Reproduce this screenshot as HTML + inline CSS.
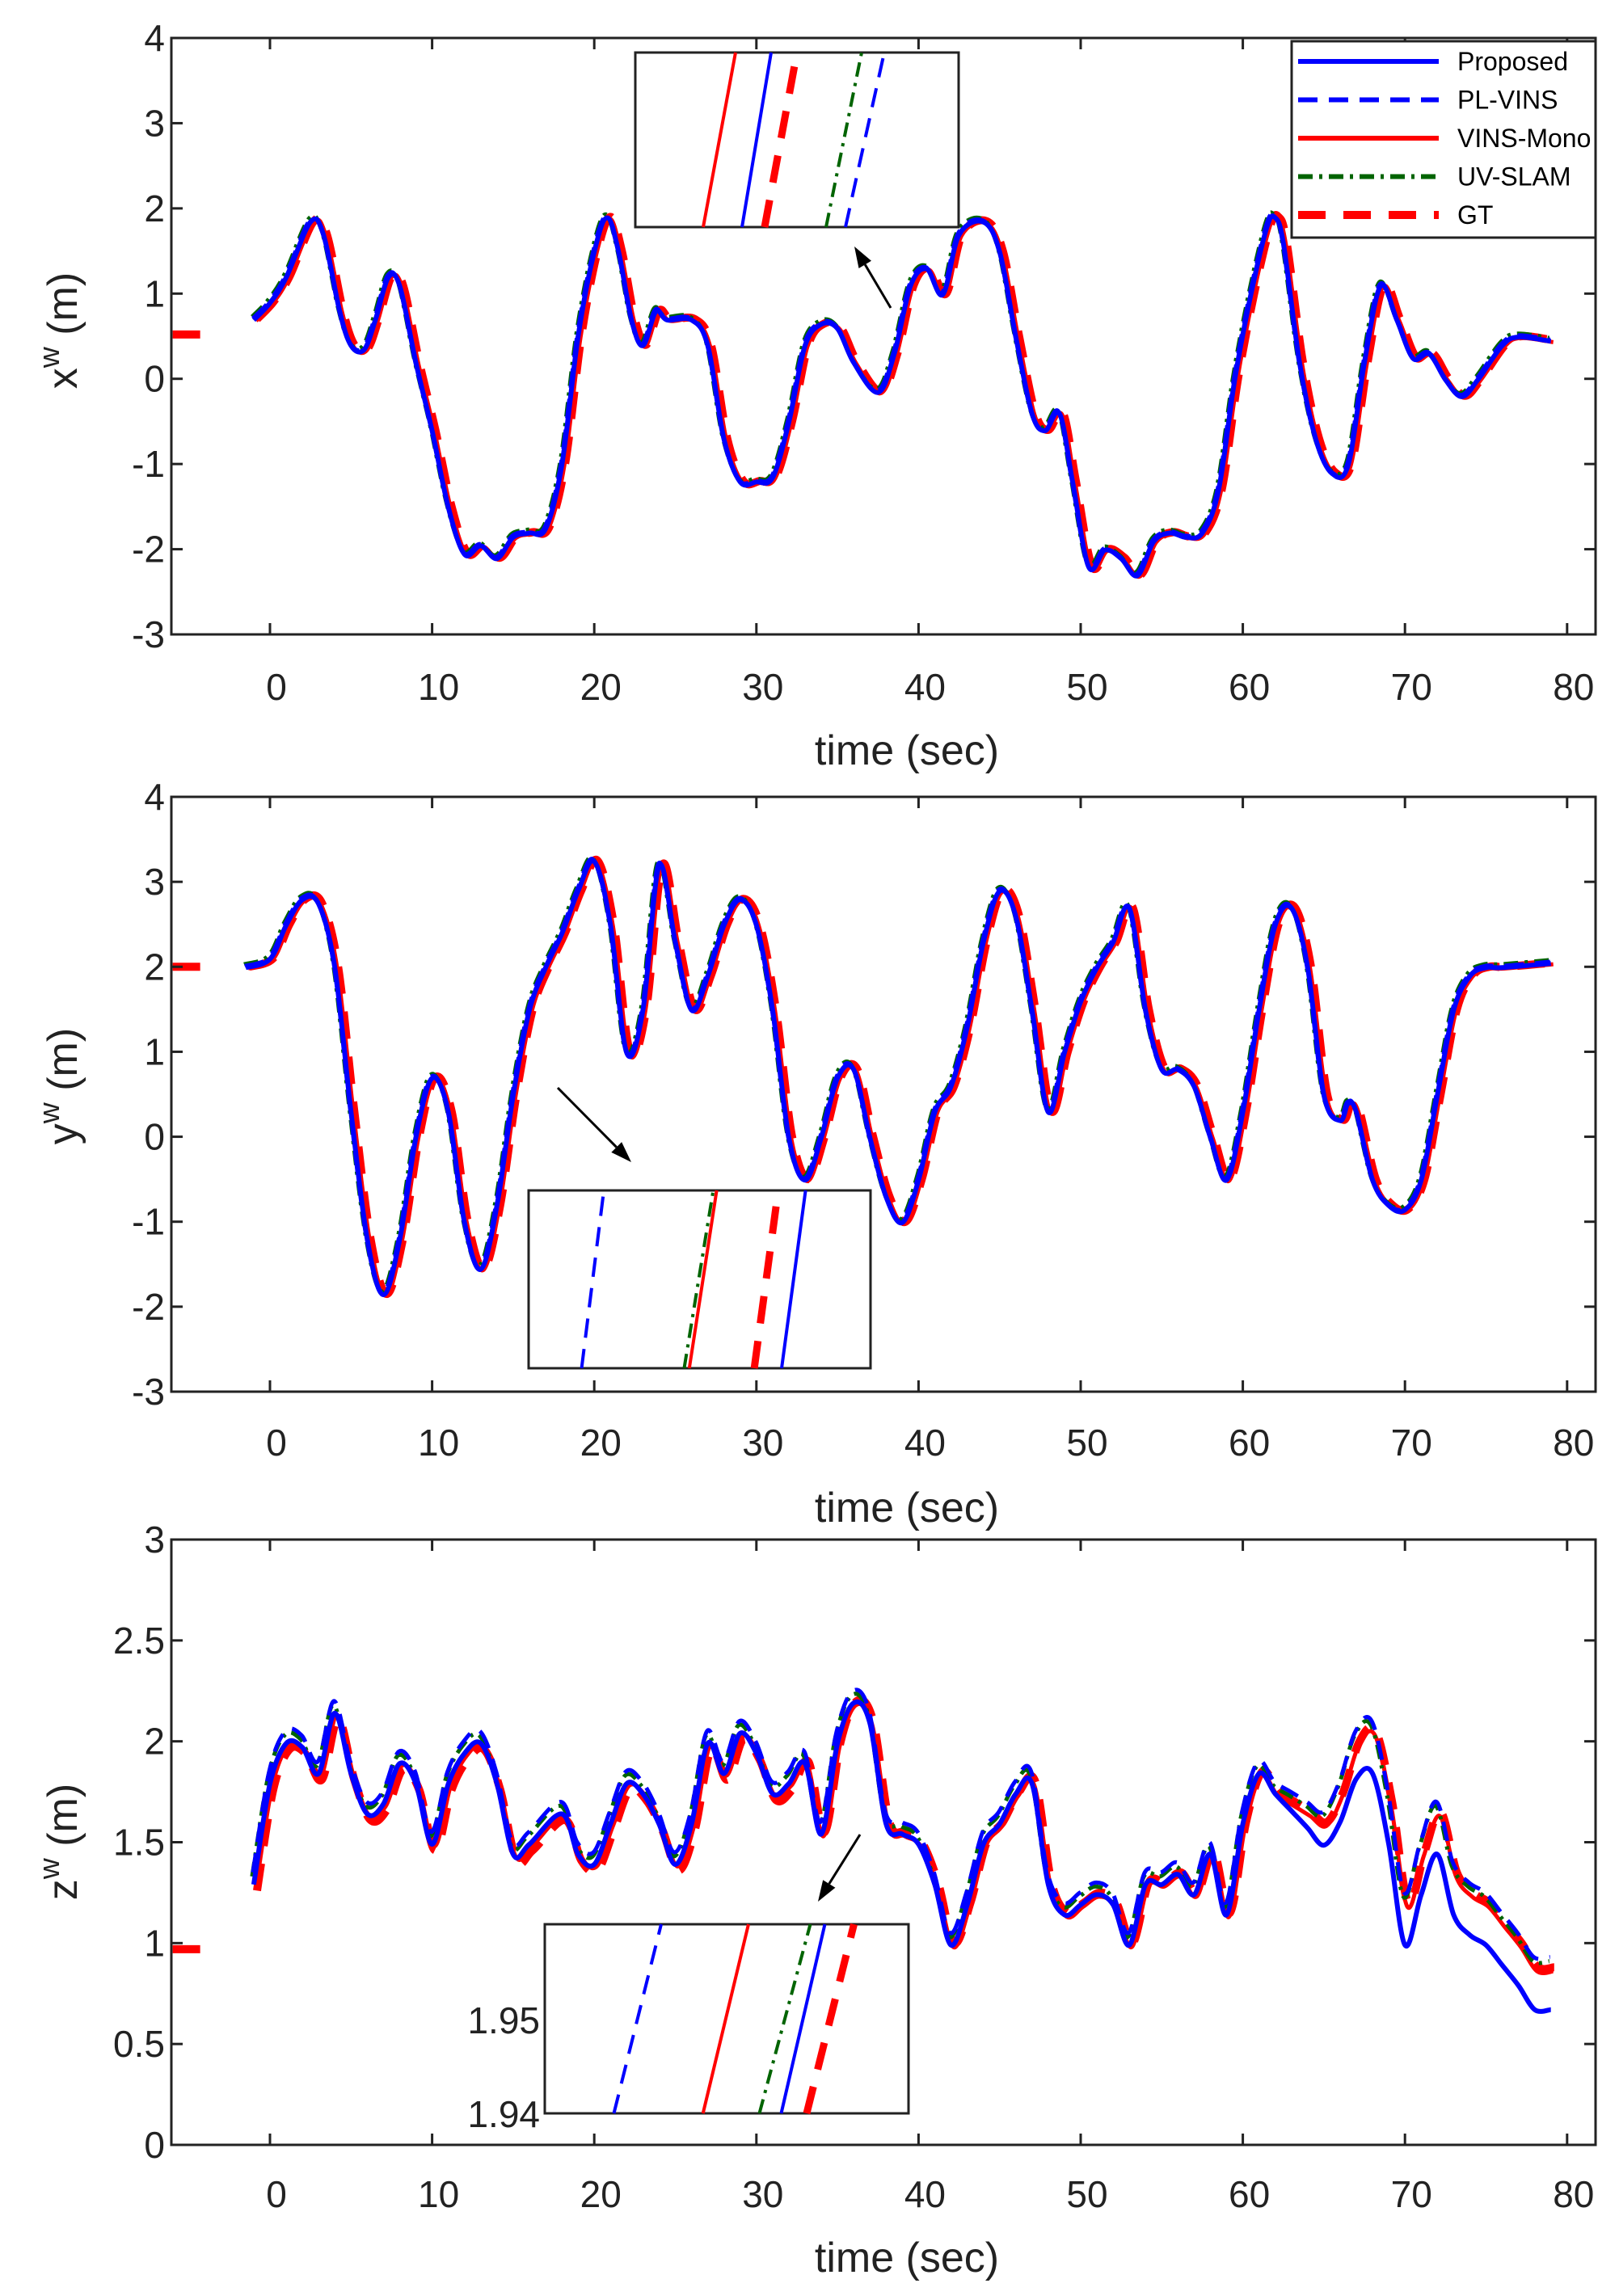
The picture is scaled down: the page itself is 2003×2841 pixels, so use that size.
<!DOCTYPE html>
<html><head><meta charset="utf-8"><style>
html,body{margin:0;padding:0;background:#fff}
svg{display:block}
text{font-family:"Liberation Sans Narrow","Liberation Sans",sans-serif;fill:#222}
</style></head><body>
<svg id="s" width="2003" height="2841" xmlns="http://www.w3.org/2000/svg"></svg>
<script>
const S=document.getElementById('s');let h='';
const L=212,R=1974;const X=t=>334+t*20.06;
function cr(pts){let d='M'+pts[0][0].toFixed(1)+','+pts[0][1].toFixed(1);
for(let i=0;i<pts.length-1;i++){const p0=pts[Math.max(0,i-1)],p1=pts[i],p2=pts[i+1],p3=pts[Math.min(pts.length-1,i+2)];
const c1=[p1[0]+(p2[0]-p0[0])/6,p1[1]+(p2[1]-p0[1])/6],c2=[p2[0]-(p3[0]-p1[0])/6,p2[1]-(p3[1]-p1[1])/6];
d+='C'+c1.map(v=>v.toFixed(1))+' '+c2.map(v=>v.toFixed(1))+' '+p2[0].toFixed(1)+','+p2[1].toFixed(1);}return d;}
const panels=[
{top:47,bot:785,y0:-3,y1:4,step:1,lab:'x',ly:409,tl:850,xl:928,dec:0,
d:[[-1,0.7],[0,0.9],[1,1.2],[2.5,1.85],[3.3,1.7],[4.3,0.8],[5,0.4],[5.8,0.35],[6.5,0.7],[7.3,1.2],[8,1.1],[9,0.2],[10,-0.6],[11,-1.5],[12,-2.05],[13,-1.95],[14,-2.1],[15,-1.85],[16,-1.8],[17,-1.75],[18,-1.0],[19,0.5],[20,1.5],[20.8,1.9],[21.5,1.5],[22.3,0.7],[23,0.4],[23.8,0.8],[24.5,0.7],[26,0.7],[27,0.4],[28,-0.7],[29,-1.2],[30,-1.2],[31,-1.15],[32,-0.5],[33,0.4],[34,0.65],[35,0.6],[36,0.2],[37.5,-0.15],[38.5,0.3],[39.5,1.1],[40.5,1.3],[41.5,1.0],[42.5,1.7],[44,1.85],[45,1.5],[46,0.5],[47,-0.4],[47.8,-0.6],[48.7,-0.4],[49.5,-1.2],[50.5,-2.2],[51.5,-2.0],[52.5,-2.1],[53.5,-2.3],[54.5,-1.9],[55.5,-1.8],[56.5,-1.85],[57.5,-1.8],[58.5,-1.3],[59.5,0],[60.5,1.0],[61.5,1.8],[62,1.9],[62.5,1.6],[63.5,0.2],[64.5,-0.7],[65.5,-1.1],[66.5,-1.0],[67.5,0.2],[68.5,1.1],[69.5,0.7],[70.5,0.25],[71.5,0.3],[72.5,0.0],[73.5,-0.2],[74.5,0.0],[76,0.4],[77,0.5],[79,0.45]],gt0:0.52},
{top:986,bot:1722,y0:-3,y1:4,step:1,lab:'y',ly:1344,tl:1785,xl:1865,dec:0,
d:[[-1.5,2.0],[0,2.1],[1,2.5],[2,2.8],[3,2.75],[4,2.0],[5,0.3],[6,-1.2],[7,-1.85],[8,-1.2],[9,0],[10,0.7],[11,0.3],[12,-1.0],[13,-1.55],[14,-0.8],[15,0.5],[16,1.5],[17,2.0],[18,2.4],[19,2.9],[20,3.25],[21,2.5],[22,1.0],[23,1.5],[24,3.2],[25,2.3],[26,1.5],[27,1.9],[28,2.5],[29,2.8],[30,2.5],[31,1.5],[32,0],[33,-0.5],[34,0.0],[35,0.7],[36,0.8],[37,0.0],[38,-0.7],[39,-1.0],[40,-0.5],[41,0.3],[42,0.6],[43,1.3],[44,2.3],[45,2.9],[46,2.6],[47,1.5],[48,0.3],[49,1.0],[50,1.6],[51,2.0],[52,2.3],[53,2.7],[54,1.5],[55,0.8],[56,0.8],[57,0.6],[58,0.0],[59,-0.5],[60,0.3],[61,1.5],[62,2.5],[63,2.7],[64,2.0],[65,0.5],[66,0.2],[66.5,0.4],[67,0.3],[68,-0.5],[69,-0.8],[70,-0.85],[71,-0.5],[72,0.5],[73,1.5],[74,1.9],[75,2.0],[76,2.0],[79,2.05]],gt0:2.0},
{top:1905,bot:2654,y0:0,y1:3,step:0.5,lab:'z',ly:2279,tl:2715,xl:2793,dec:1,
d:[[-1,1.3],[0,1.8],[1,2.0],[2,1.98],[3,1.85],[4,2.15],[5,1.85],[6,1.65],[7,1.7],[8,1.9],[9,1.8],[10,1.5],[11,1.8],[12,1.95],[13,2.0],[14,1.8],[15,1.45],[16,1.5],[18,1.65],[19,1.45],[20,1.4],[21,1.6],[22,1.8],[23,1.75],[24,1.6],[25,1.4],[26,1.6],[27,2.0],[28,1.85],[29,2.05],[30,1.95],[31,1.75],[32,1.8],[33,1.9],[34,1.55],[35,2.0],[36,2.2],[37,2.1],[38,1.6],[39,1.55],[40,1.5],[41,1.3],[42,1.0],[43,1.2],[44,1.5],[45,1.6],[46,1.75],[47,1.8],[48,1.3],[49,1.15],[50,1.2],[51,1.25],[52,1.2],[53,1.0],[54,1.3],[55,1.3],[56,1.35],[57,1.25],[58,1.45],[59,1.15],[60,1.6],[61,1.85],[62,1.75],[63,1.7],[64,1.65],[65,1.6],[66,1.75],[67,2.0],[68,2.05],[69,1.7],[70,1.2],[71,1.45],[72,1.65],[73,1.35],[74,1.25],[75,1.2],[76,1.1],[77,1.0],[78,0.88],[79,0.88]],gt0:0.97}
];
panels.forEach((p,pi)=>{
const Y=v=>p.bot-(v-p.y0)/(p.y1-p.y0)*(p.bot-p.top);
const mk=(dt,dv,fn)=>p.d.map(([t,v])=>[X(t+dt),Y(v+dv+(fn?fn(t):0))]);
let propFn=null;
if(pi==2) propFn=t=>t<62?0:t<68?-(t-62)*0.035:-0.2;
const gt=mk(0.2,0,pi==2?(t=>t<33?-0.04:0):null);
h+=`<path d="${cr(gt)}" fill="none" stroke="#f00" stroke-width="10" stroke-dasharray="34,22"/>`;
h+=`<line x1="${X(-6)}" y1="${Y(p.gt0)}" x2="${X(-3.5)}" y2="${Y(p.gt0)}" stroke="#f00" stroke-width="10" stroke-dasharray="34,22"/>`;
h+=`<path d="${cr(mk(0.15,-0.02))}" fill="none" stroke="#f00" stroke-width="5"/>`;
h+=`<path d="${cr(mk(-0.1,0.03))}" fill="none" stroke="#006400" stroke-width="5" stroke-dasharray="18,8,4,8"/>`;
h+=`<path d="${cr(mk(-0.05,pi==2?0.05:0.01))}" fill="none" stroke="#00f" stroke-width="5" stroke-dasharray="24,14"/>`;
h+=`<path d="${cr(mk(0,-0.01,propFn))}" fill="none" stroke="#00f" stroke-width="6"/>`;
h+=`<rect x="${L}" y="${p.top}" width="${R-L}" height="${p.bot-p.top}" fill="none" stroke="#222" stroke-width="3"/>`;
for(let t=0;t<=80;t+=10){const x=X(t);h+=`<line x1="${x}" y1="${p.bot}" x2="${x}" y2="${p.bot-14}" stroke="#222" stroke-width="3"/><line x1="${x}" y1="${p.top}" x2="${x}" y2="${p.top+14}" stroke="#222" stroke-width="3"/>`;
h+=`<text x="${x+8}" y="${p.tl+16}" font-size="46" text-anchor="middle">${t}</text>`;}
for(let v=p.y0;v<=p.y1+1e-9;v+=p.step){const y=Y(v);h+=`<line x1="${L}" y1="${y}" x2="${L+14}" y2="${y}" stroke="#222" stroke-width="3"/><line x1="${R}" y1="${y}" x2="${R-14}" y2="${y}" stroke="#222" stroke-width="3"/>`;
let s=(Math.abs(v-Math.round(v))<1e-9)?String(Math.round(v)):v.toFixed(1);
h+=`<text x="204" y="${y+16}" font-size="46" text-anchor="end">${s}</text>`;}
h+=`<text x="1122" y="${p.xl+18}" font-size="52" text-anchor="middle">time (sec)</text>`;
h+=`<text transform="translate(95,${p.ly}) rotate(-90)" font-size="52" text-anchor="middle">${p.lab}<tspan dy="-22" font-size="36">w</tspan><tspan dy="22"> (m)</tspan></text>`;
});
function inset(x0,y0,x1,y1,ls){
h+=`<rect x="${x0}" y="${y0}" width="${x1-x0}" height="${y1-y0}" fill="#fff" stroke="#222" stroke-width="3"/>`;
const w=x1-x0;
ls.forEach(([a,b,c,sw,da])=>{h+=`<line x1="${x0+a*w}" y1="${y1}" x2="${x0+b*w}" y2="${y0}" stroke="${c}" stroke-width="${sw}" ${da?`stroke-dasharray="${da}"`:''}/>`;});
}
inset(786,65,1186,281,[[0.21,0.31,'#f00',4],[0.33,0.42,'#00f',4],[0.40,0.50,'#f00',9,'34,22'],[0.59,0.70,'#006400',4,'18,8,4,8'],[0.65,0.77,'#00f',4,'24,14']]);
inset(654,1473,1077,1693,[[0.155,0.22,'#00f',4,'24,14'],[0.455,0.54,'#006400',4,'18,8,4,8'],[0.47,0.55,'#f00',4],[0.66,0.73,'#f00',9,'34,22'],[0.74,0.81,'#00f',4]]);
inset(674,2381,1124,2615,[[0.19,0.32,'#00f',4,'24,14'],[0.435,0.56,'#f00',4],[0.59,0.73,'#006400',4,'18,8,4,8'],[0.65,0.77,'#00f',4],[0.72,0.85,'#f00',9,'34,22']]);
h+=`<text x="668" y="2516" font-size="46" text-anchor="end">1.95</text><text x="668" y="2632" font-size="46" text-anchor="end">1.94</text>`;
function arrow(x1,y1,x2,y2){const a=Math.atan2(y2-y1,x2-x1),l=26,w=9;
const bx=x2-l*Math.cos(a),by=y2-l*Math.sin(a);
h+=`<line x1="${x1}" y1="${y1}" x2="${bx}" y2="${by}" stroke="#000" stroke-width="3"/>`;
h+=`<polygon points="${x2},${y2} ${bx+w*Math.sin(a)},${by-w*Math.cos(a)} ${bx-w*Math.sin(a)},${by+w*Math.cos(a)}" fill="#000"/>`;}
arrow(1102,381,1057,305);arrow(690,1346,781,1438);arrow(1064,2270,1012,2353);
h+=`<rect x="1598" y="51" width="376" height="243" fill="#fff" stroke="#222" stroke-width="3"/>`;
const lg=[['Proposed','#00f',6,''],['PL-VINS','#00f',6,'24,14'],[' VINS-Mono','#f00',6,''],['UV-SLAM','#006400',6,'18,8,4,8'],['GT','#f00',10,'34,22']];
lg.forEach((e,i)=>{const y=76+i*47.5;h+=`<line x1="1606" y1="${y}" x2="1780" y2="${y}" stroke="${e[1]}" stroke-width="${e[2]}" ${e[3]?`stroke-dasharray="${e[3]}"`:''}/>`;
h+=`<text x="1803" y="${y+11}" font-size="32" style="fill:#000">${e[0]}</text>`;});
S.innerHTML=h;
</script>
</body></html>
